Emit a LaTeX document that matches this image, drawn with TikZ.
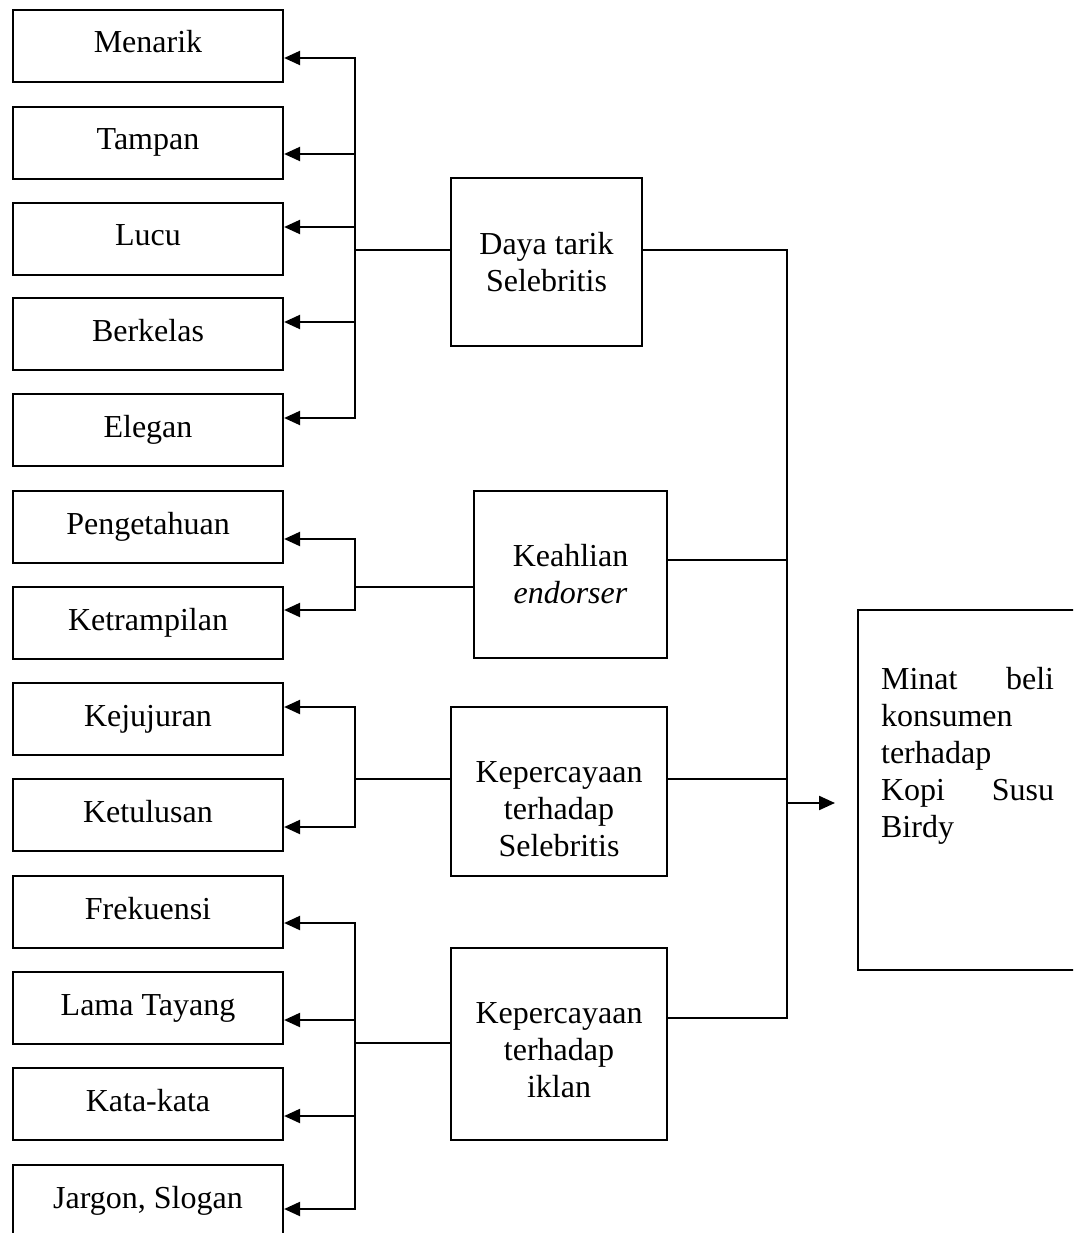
\documentclass[tikz,border=0pt]{standalone}
\usepackage{fontspec}
\setmainfont{Liberation Serif}
\usetikzlibrary{arrows.meta}
\newcommand{\bigfont}{\fontsize{32}{37}\selectfont}
\begin{document}
\begin{tikzpicture}[x=1pt,y=-1pt,line width=2.2pt,line cap=rect,
  leaf/.style={draw,minimum width=270pt,minimum height=72pt,inner sep=0pt,text height=20pt,text depth=6pt,font=\bigfont},
  midbox/.style={draw,inner sep=0pt,align=center,font=\bigfont},
  txt/.style={inner sep=0pt,align=center,font=\bigfont},
  arr/.style={-{Triangle[length=16pt,width=14pt]}}]
\fill[white] (0,0) rectangle (1073,1233);
\useasboundingbox (0,0) rectangle (1073,1233);
\clip (0,0) rectangle (1073,1233);

% left boxes
\node[leaf] (menarik) at (148,46) {Menarik};
\node[leaf] (tampan) at (148,143) {Tampan};
\node[leaf] (lucu) at (148,239) {Lucu};
\node[leaf] (berkelas) at (148,334) {Berkelas};
\node[leaf] (elegan) at (148,430) {Elegan};
\node[leaf] (pengetahuan) at (148,527) {Pengetahuan};
\node[leaf] (ketrampilan) at (148,623) {Ketrampilan};
\node[leaf] (kejujuran) at (148,719) {Kejujuran};
\node[leaf] (ketulusan) at (148,815) {Ketulusan};
\node[leaf] (frekuensi) at (148,912) {Frekuensi};
\node[leaf] (lama) at (148,1008) {Lama Tayang};
\node[leaf] (kata) at (148,1104) {Kata-kata};
\node[leaf] (jargon) at (148,1201) {Jargon, Slogan};

% middle boxes
\node[midbox,minimum width=191pt,minimum height=168pt] (daya) at (546.5,262) {Daya tarik\\Selebritis};
\node[midbox,minimum width=193pt,minimum height=167pt] (keahlian) at (570.5,574.5) {Keahlian\\\textit{endorser}};
\node[midbox,minimum width=216pt,minimum height=169pt] (kepsel) at (559,791.5) {};
\node[txt] (kepseltext) at (559,809.5) {Kepercayaan\\terhadap\\Selebritis};
\node[midbox,minimum width=216pt,minimum height=192pt] (iklan) at (559,1044) {};
\node[txt] (iklantext) at (559,1050.5) {Kepercayaan\\terhadap\\iklan};

% right box
\node[draw,inner sep=0pt,minimum width=232pt,minimum height=360pt] (minat) at (974,790) {};
\node[inner sep=0pt,anchor=north west,text width=173pt,align=left,font=\bigfont] (minattext) at (880,666)
  {Minat\hfill beli\\konsumen\\terhadap\\Kopi\hfill Susu\\Birdy};

% group 1
\coordinate (a1) at (355,58);
\coordinate (a2) at (355,154);
\coordinate (a3) at (355,227);
\coordinate (a4) at (355,322);
\coordinate (a5) at (355,418);
\coordinate (j1) at (355,250);
\draw (a1) -- (a5);
\draw[arr] (a1) -- (a1 -| menarik.east);
\draw[arr] (a2) -- (a2 -| tampan.east);
\draw[arr] (a3) -- (a3 -| lucu.east);
\draw[arr] (a4) -- (a4 -| berkelas.east);
\draw[arr] (a5) -- (a5 -| elegan.east);
\draw (daya.west |- j1) -- (j1);

% group 2
\coordinate (b1) at (355,539);
\coordinate (b2) at (355,610);
\coordinate (j2) at (355,587);
\draw (b1) -- (b2);
\draw[arr] (b1) -- (b1 -| pengetahuan.east);
\draw[arr] (b2) -- (b2 -| ketrampilan.east);
\draw (keahlian.west |- j2) -- (j2);

% group 3
\coordinate (c1) at (355,707);
\coordinate (c2) at (355,827);
\coordinate (j3) at (355,779);
\draw (c1) -- (c2);
\draw[arr] (c1) -- (c1 -| kejujuran.east);
\draw[arr] (c2) -- (c2 -| ketulusan.east);
\draw (kepsel.west |- j3) -- (j3);

% group 4
\coordinate (d1) at (355,923);
\coordinate (d2) at (355,1020);
\coordinate (d3) at (355,1116);
\coordinate (d4) at (355,1209);
\coordinate (j4) at (355,1043);
\draw (d1) -- (d4);
\draw[arr] (d1) -- (d1 -| frekuensi.east);
\draw[arr] (d2) -- (d2 -| lama.east);
\draw[arr] (d3) -- (d3 -| kata.east);
\draw[arr] (d4) -- (d4 -| jargon.east);
\draw (iklan.west |- j4) -- (j4);

% right trunk
\coordinate (r1) at (787,250);
\coordinate (r2) at (787,560);
\coordinate (r3) at (787,779);
\coordinate (r4) at (787,1018);
\coordinate (rm) at (787,803);
\coordinate (rtip) at (835,803);
\draw (r1) -- (r4);
\draw (daya.east |- r1) -- (r1);
\draw (keahlian.east |- r2) -- (r2);
\draw (kepsel.east |- r3) -- (r3);
\draw (iklan.east |- r4) -- (r4);
\draw[arr] (rm) -- (rtip);
\end{tikzpicture}
\end{document}
